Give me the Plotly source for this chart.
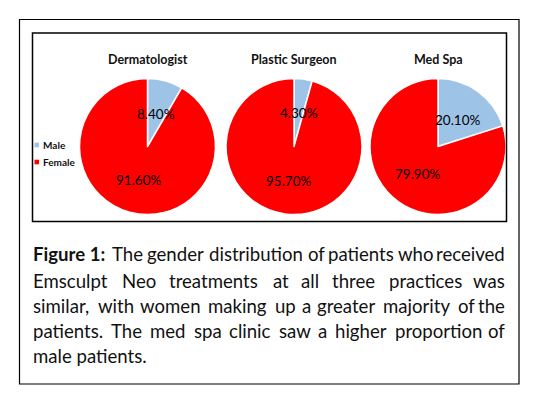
import math
import re
import plotly.graph_objects as go

# ---------------- data ----------------
practices = ["Dermatologist", "Plastic Surgeon", "Med Spa"]
genders = ["Male", "Female"]
male_pct = [8.4, 4.3, 20.1]
female_pct = [91.6, 95.7, 79.9]

caption_lines = [
    "<b>Figure 1:</b> The gender distribution of patients who received",
    "Emsculpt Neo treatments at all three practices was",
    "similar, with women making up a greater majority of the",
    "patients. The med spa clinic saw a higher proportion of",
    "male patients.",
]

# ---------------- layout constants (pixels) ----------------
W, H = 553, 393
colors = ["#9dc3e6", "#ff0000"]
pie_cx = [139.5, 286, 430]
pie_cy = 138.5
R = 68
title_y = 51
line_y = [246, 272.5, 298, 323, 347.5]
text_left, text_right = 22.5, 498.5
cap_size = 18.6

# approximate advance widths (em) of Lato Regular, used for justification
_w = dict(a=.486, b=.545, c=.454, d=.545, e=.512, f=.318, g=.492, h=.545, i=.235,
          j=.235, k=.497, l=.235, m=.82, n=.545, o=.54, p=.537, q=.545, r=.36,
          s=.418, t=.343, u=.545, v=.495, w=.75, x=.48, y=.495, z=.44)
_w.update({"E": .555, "F": .54, "N": .72, "T": .56, ",": .22, ".": .22, ":": .24,
           "1": .58, " ": .193})
_calib = 1.065


def text_width(word, size):
    bold = "<b>" in word
    plain = re.sub(r"<[^>]+>", "", word)
    em = sum(_w.get(ch, .55) for ch in plain)
    return em * size * _calib * (1.05 if bold else 1.0)


def px(x):
    return x / W


def py(y):
    return 1 - y / H


fig = go.Figure()
annotations = []

for i, name in enumerate(practices):
    vals = [male_pct[i], female_pct[i]]
    cx = pie_cx[i]
    fig.add_trace(go.Pie(
        labels=genders,
        values=vals,
        sort=False,
        direction="clockwise",
        rotation=0,
        textinfo="none",
        hoverinfo="label+value",
        marker=dict(colors=colors, line=dict(color="white", width=1.5)),
        domain=dict(x=[px(cx - R), px(cx + R)], y=[py(pie_cy + R), py(pie_cy - R)]),
        showlegend=False,
    ))
    annotations.append(dict(
        x=px(cx), y=py(title_y), xref="paper", yref="paper",
        text=f"<b>{name}</b>", showarrow=False,
        font=dict(family="Lato", size=12.5, color="#111111"),
        xanchor="center", yanchor="middle",
    ))
    total = sum(vals)
    cum = 0
    for v in vals:
        theta = 2 * math.pi * (cum + v / 2) / total
        cum += v
        lx = cx + 0.5 * R * math.sin(theta)
        ly = pie_cy - 0.5 * R * math.cos(theta) + 0.5
        annotations.append(dict(
            x=px(lx), y=py(ly), xref="paper", yref="paper",
            text=f"{v:.2f}%", showarrow=False,
            font=dict(family="Lato", size=13.5, color="#000000"),
            xanchor="center", yanchor="middle",
        ))

# legend (custom)
legend_y = [137, 154]
shapes = []
for g, c, ly in zip(genders, colors, legend_y):
    shapes.append(dict(type="rect", xref="paper", yref="paper",
                       x0=px(26.5), x1=px(31), y0=py(ly + 2.3), y1=py(ly - 2.3),
                       fillcolor=c, line=dict(width=0)))
    annotations.append(dict(
        x=px(32.5), y=py(ly), xref="paper", yref="paper",
        text=f"<b>{g}</b>", showarrow=False,
        font=dict(family="Lato", size=10, color="#111111"),
        xanchor="left", yanchor="middle",
    ))

# borders
shapes.append(dict(type="rect", xref="paper", yref="paper",
                   x0=px(11.5), x1=px(511), y0=py(376), y1=py(11.5),
                   line=dict(color="black", width=1.2), fillcolor="rgba(0,0,0,0)"))
shapes.append(dict(type="rect", xref="paper", yref="paper",
                   x0=px(24.5), x1=px(498.5), y0=py(213.5), y1=py(25),
                   line=dict(color="black", width=1.5), fillcolor="rgba(0,0,0,0)"))

# caption: fully justified except the last line
cap_font = dict(family="Lato", size=cap_size, color="#111111")
for li, line in enumerate(caption_lines):
    ys = py(line_y[li])
    if li == len(caption_lines) - 1:
        annotations.append(dict(x=px(text_left), y=ys, xref="paper", yref="paper",
                                text=line, showarrow=False, font=cap_font,
                                xanchor="left", yanchor="middle"))
        continue
    words = re.findall(r"<b>.*?</b>|\S+", line)
    widths = [text_width(w, cap_size) for w in words]
    gap = (text_right - text_left - sum(widths)) / (len(words) - 1)
    gap = max(gap, 0.15 * cap_size)
    x = text_left
    for wi, (w, ww) in enumerate(zip(words, widths)):
        if wi == len(words) - 1:
            annotations.append(dict(x=px(text_right), y=ys, xref="paper", yref="paper",
                                    text=w, showarrow=False, font=cap_font,
                                    xanchor="right", yanchor="middle"))
        else:
            annotations.append(dict(x=px(x), y=ys, xref="paper", yref="paper",
                                    text=w, showarrow=False, font=cap_font,
                                    xanchor="left", yanchor="middle"))
        x += ww + gap

fig.update_layout(
    width=W, height=H,
    margin=dict(l=0, r=0, t=0, b=0),
    paper_bgcolor="white", plot_bgcolor="white",
    annotations=annotations, shapes=shapes,
    showlegend=False,
)

fig.write_html("out.html")
